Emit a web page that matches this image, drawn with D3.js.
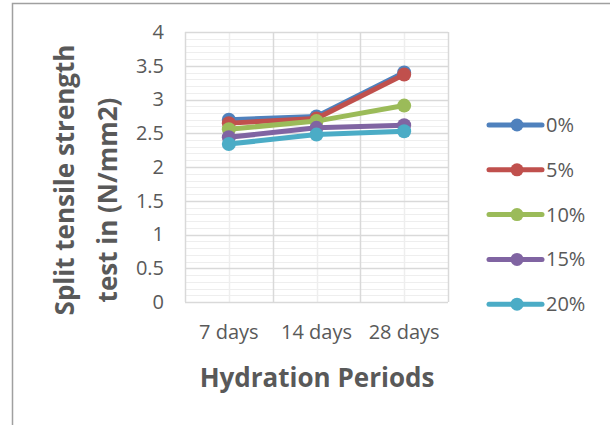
<!DOCTYPE html>
<html>
<head>
<meta charset="utf-8">
<script src="https://cdn.jsdelivr.net/npm/d3@7"></script>
<style>
    body { margin: 0; background: #ffffff; }
    svg { display: block; font-family: "Open Sans", sans-serif; }
</style>
</head>
<body>
<svg class="chart" width="610" height="425"></svg>
<script>
// chart data
var periods = ["7 days", "14 days", "28 days"];
var seriesNames = ["0%", "5%", "10%", "15%", "20%"];
var s0 = [2.70, 2.75, 3.40];
var s5 = [2.65, 2.72, 3.37];
var s10 = [2.56, 2.68, 2.91];
var s15 = [2.44, 2.58, 2.62];
var s20 = [2.34, 2.48, 2.53];
var yTicks = [0, 0.5, 1, 1.5, 2, 2.5, 3, 3.5, 4];
var colors = ["#4f81bd", "#c0504d", "#9bbb59", "#8064a2", "#4bacc6"];

var values = [s0, s5, s10, s15, s20];
var textColor = "#595959";

var svg = d3.select(".chart");

// outer chart frame (only left and top show in the picture)
svg.append("rect")
    .attr("x", 12.5).attr("y", 3.5)
    .attr("width", 700).attr("height", 500)
    .attr("fill", "none")
    .attr("stroke", "#a0a0a0")
    .attr("stroke-width", 1.5);

var plotL = 185, plotR = 448, plotT = 32, plotB = 302;

var x = d3.scaleBand().domain(periods).range([plotL, plotR]).padding(0);
var y = d3.scaleLinear().domain([0, 4]).range([plotB, plotT]);

function cx(p) { return x(p) + x.bandwidth() / 2; }

// minor gridlines
var minor = d3.range(0, 41).map(d => d / 10).filter(d => yTicks.indexOf(d) < 0);
svg.append("g").selectAll("line")
    .data(minor)
    .enter()
    .append("line")
    .attr("x1", plotL).attr("x2", plotR)
    .attr("y1", d => Math.round(y(d)) + 0.5)
    .attr("y2", d => Math.round(y(d)) + 0.5)
    .attr("stroke", "#eeeeee");

svg.append("g").selectAll("line")
    .data(periods)
    .enter()
    .append("line")
    .attr("x1", d => Math.round(cx(d)) + 0.5)
    .attr("x2", d => Math.round(cx(d)) + 0.5)
    .attr("y1", plotT).attr("y2", plotB)
    .attr("stroke", "#eeeeee")
    .attr("stroke-width", 1.5);

// major gridlines
svg.append("g").selectAll("line")
    .data(yTicks)
    .enter()
    .append("line")
    .attr("x1", plotL).attr("x2", plotR)
    .attr("y1", d => Math.round(y(d)) + 0.5)
    .attr("y2", d => Math.round(y(d)) + 0.5)
    .attr("stroke", "#d9d9d9")
    .attr("stroke-width", 1.5);

var bounds = periods.map(d => x(d)).concat([plotR]);
svg.append("g").selectAll("line")
    .data(bounds)
    .enter()
    .append("line")
    .attr("x1", d => Math.round(d) + 0.5)
    .attr("x2", d => Math.round(d) + 0.5)
    .attr("y1", plotT).attr("y2", plotB)
    .attr("stroke", "#d9d9d9")
    .attr("stroke-width", 1.5);

// axes (labels only)
var yAxis = svg.append("g")
    .attr("transform", "translate(" + plotL + ",0)")
    .call(d3.axisLeft(y).tickValues(yTicks).tickSize(0).tickPadding(21).tickFormat(d3.format("")));
yAxis.select(".domain").remove();
yAxis.selectAll("text")
    .style("font-size", "20px")
    .style("font-family", "Open Sans")
    .attr("fill", textColor);

var xAxis = svg.append("g")
    .attr("transform", "translate(0," + plotB + ")")
    .call(d3.axisBottom(x).tickSize(0).tickPadding(23));
xAxis.select(".domain").remove();
xAxis.selectAll("text")
    .style("font-size", "20px")
    .style("font-family", "Open Sans")
    .attr("fill", textColor);

// series lines + markers
var line = d3.line()
    .x((d, i) => cx(periods[i]))
    .y(d => y(d));

values.forEach((vals, k) => {
    svg.append("path")
        .attr("d", line(vals))
        .attr("fill", "none")
        .attr("stroke", colors[k])
        .attr("stroke-width", 5)
        .attr("stroke-linejoin", "round");
    svg.append("g").selectAll("circle")
        .data(vals)
        .enter()
        .append("circle")
        .attr("cx", (d, i) => cx(periods[i]))
        .attr("cy", d => y(d))
        .attr("r", 7)
        .attr("fill", colors[k]);
});

// axis titles
svg.append("text")
    .attr("x", 317).attr("y", 387)
    .attr("text-anchor", "middle")
    .style("font-size", "26px")
    .style("font-weight", "bold")
    .attr("fill", textColor)
    .text("Hydration Periods");

svg.append("text")
    .attr("transform", "translate(74,180) rotate(-90)")
    .attr("text-anchor", "middle")
    .style("font-size", "26px")
    .style("font-weight", "bold")
    .attr("fill", textColor)
    .text("Split tensile strength");

svg.append("text")
    .attr("transform", "translate(117,200) rotate(-90)")
    .attr("text-anchor", "middle")
    .style("font-size", "26px")
    .style("font-weight", "bold")
    .attr("fill", textColor)
    .text("test in (N/mm2)");

// legend
var legend = svg.append("g").selectAll("g")
    .data(seriesNames)
    .enter()
    .append("g")
    .attr("transform", (d, i) => "translate(0," + (125 + i * 44.8) + ")");

legend.append("line")
    .attr("x1", 489).attr("x2", 542)
    .attr("y1", 0).attr("y2", 0)
    .attr("stroke", (d, i) => colors[i])
    .attr("stroke-width", 5)
    .attr("stroke-linecap", "round");

legend.append("circle")
    .attr("cx", 517).attr("cy", 0).attr("r", 6.5)
    .attr("fill", (d, i) => colors[i]);

legend.append("text")
    .attr("x", 546).attr("y", 0).attr("dy", "0.35em")
    .style("font-size", "20px")
    .attr("fill", textColor)
    .text(d => d);
</script>
</body>
</html>
